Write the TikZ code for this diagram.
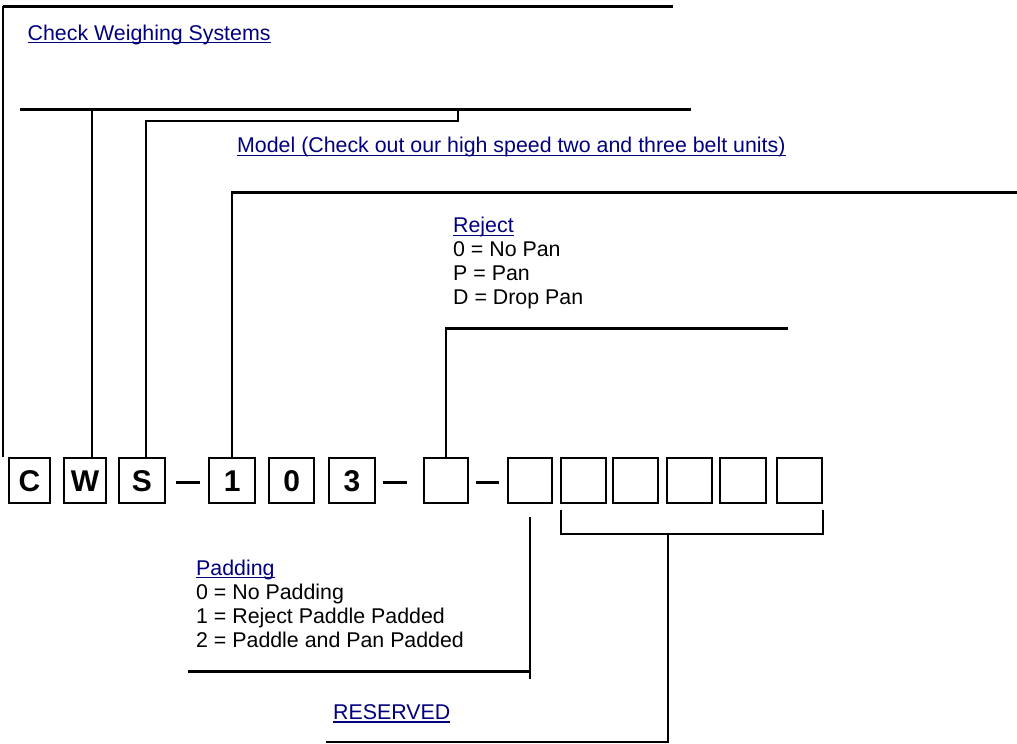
\documentclass[tikz,border=0pt]{standalone}
\usepackage{fontspec}
\setmainfont{Liberation Sans}
\definecolor{linkblue}{RGB}{0,0,128}
\newcommand{\myul}[1]{\setbox0\hbox{#1}\rlap{\rule[-3.4pt]{\wd0}{1.4pt}}\box0}
\tikzset{
  digit/.style={draw, line width=2pt, inner sep=0pt, minimum height=44.7pt,
    font=\fontsize{30}{32}\selectfont\bfseries},
  lbl/.style={anchor=base west, inner sep=0pt, font=\fontsize{21.35}{24}\selectfont},
  link/.style={lbl, text=linkblue},
  lead/.style={line width=2pt},
  bar/.style={line width=3pt},
}
\begin{document}
\begin{tikzpicture}[x=1pt,y=-1pt]
\useasboundingbox[fill=white] (0,0) rectangle (1017,744);

% code boxes
\node[digit, minimum width=40.4pt] (bC) at (29.5,480.7) {C};
\node[digit, minimum width=42.6pt] (bW) at (85,480.7) {W};
\node[digit, minimum width=45.4pt] (bS) at (142,480.7) {S};
\node[digit, minimum width=45.7pt] (b1) at (232.2,480.7) {1};
\node[digit, minimum width=44.7pt] (b0) at (291.7,480.7) {0};
\node[digit, minimum width=45.4pt] (b3) at (352,480.7) {3};
\node[digit, minimum width=44.7pt] (bR) at (446,480.7) {};
\node[digit, minimum width=44.7pt] (bP) at (530,480.7) {};
\node[digit, minimum width=44.7pt] (bX1) at (583.3,480.7) {};
\node[digit, minimum width=45.3pt] (bX2) at (635.3,480.7) {};
\node[digit, minimum width=45pt] (bX3) at (689.2,480.7) {};
\node[digit, minimum width=45.4pt] (bX4) at (743,480.7) {};
\node[digit, minimum width=45.3pt] (bX5) at (799.7,480.7) {};

% dashes
\coordinate (d1a) at (176,482); \coordinate (d1b) at (200,482);
\coordinate (d2a) at (383,482); \coordinate (d2b) at (407,482);
\coordinate (d3a) at (476,482); \coordinate (d3b) at (499,482);
\draw[bar] (d1a) -- (d1b);
\draw[bar] (d2a) -- (d2b);
\draw[bar] (d3a) -- (d3b);

% labels
\node[link] (tCWS) at (27.5,40) {\myul{Check Weighing Systems}};
\node[link] (tModel) at (237,152.5) {\myul{Model (Check out our high speed two and three belt units)}};
\node[link] (tRej) at (453,232.5) {\myul{Reject}};
\node[lbl] (tRej1) at (453,256.5) {0 = No Pan};
\node[lbl] (tRej2) at (453,280.5) {P = Pan};
\node[lbl] (tRej3) at (453,304.5) {D = Drop Pan};
\node[link] (tPad) at (196,575) {\myul{Padding}};
\node[lbl] (tPad1) at (196,599) {0 = No Padding};
\node[lbl] (tPad2) at (196,623) {1 = Reject Paddle Padded};
\node[lbl] (tPad3) at (196,647) {2 = Paddle and Pan Padded};
\node[link] (tRes) at (333,719.3) {\myul{RESERVED}};

% C leader
\coordinate (topL) at (3,6); \coordinate (topR) at (673,6);
\coordinate (cEnd) at (3,457);
\draw[bar] (topL) -- (topR);
\draw[lead] (topL) -- (cEnd);

% W and S leaders
\coordinate (secL) at (20,109); \coordinate (secR) at (691,109);
\draw[bar] (secL) -- (secR);
\coordinate (wTop) at (92,109);
\draw[lead] (wTop) -- (wTop |- bW.north);
\coordinate (sKnee) at (146,121); \coordinate (sEnd) at (458,121); \coordinate (sUp) at (458,109);
\draw[line width=2.5pt] (sKnee |- bS.north) -- (sKnee) -- (sEnd) -- (sUp);

% model leader
\coordinate (modL) at (231,192); \coordinate (modR) at (1017,192);
\draw[bar] (modL) -- (modR);
\draw[lead] (b1.north) -- (b1.north |- modL);

% reject leader
\coordinate (rejL) at (445,328); \coordinate (rejR) at (788,328);
\draw[bar] (rejL) -- (rejR);
\draw[lead] (bR.north) -- (bR.north |- rejL);

% padding leader
\coordinate (padTop) at (530,517); \coordinate (padBot) at (530,679);
\coordinate (padL) at (188,671.5);
\draw[lead] (padTop) -- (padBot);
\draw[bar] (padL) -- (padL -| padTop);

% reserved bracket
\coordinate (brL) at (561,510); \coordinate (brR) at (823,510);
\coordinate (brM) at (668,534); \coordinate (resEnd) at (326,742);
\draw[lead] (brL) -- (brL |- brM) -- (brR |- brM) -- (brR);
\draw[lead] (brM) -- (brM |- resEnd) -- (resEnd);
\end{tikzpicture}
\end{document}
